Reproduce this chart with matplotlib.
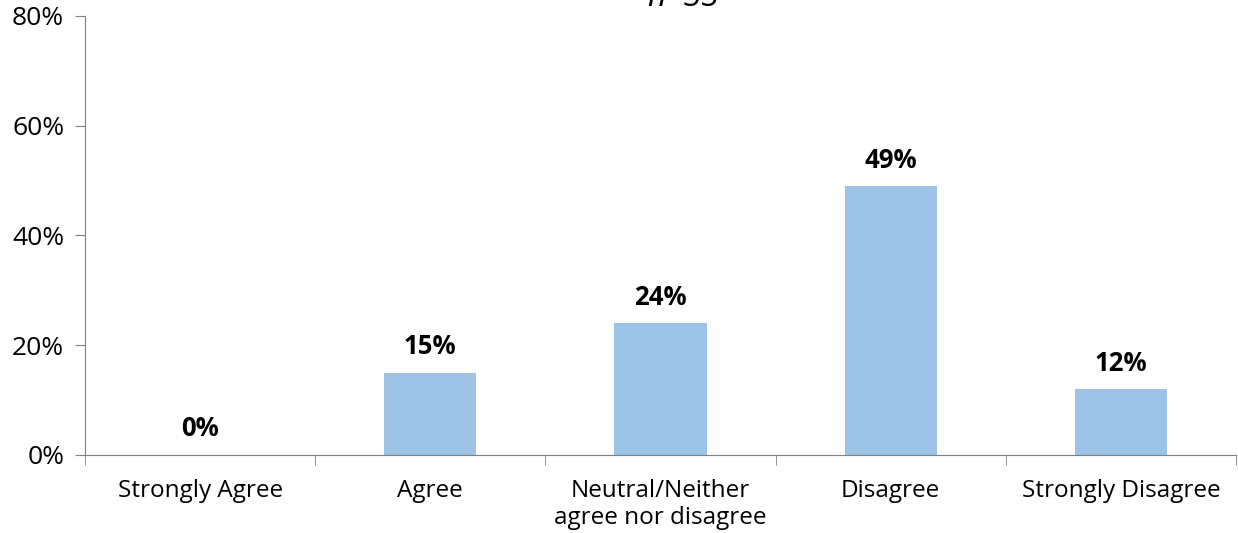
import matplotlib.pyplot as plt
import numpy as np
from matplotlib.ticker import FixedLocator, PercentFormatter

plt.rcParams['font.family'] = ['Open Sans', 'DejaVu Sans']

# datos
categorias = ['Strongly Agree', 'Agree', 'Neutral/Neither\nagree nor disagree',
              'Disagree', 'Strongly Disagree']
valores = [0, 15, 24, 49, 12]
titulo = 'n=33'

fig = plt.figure(figsize=(12.38, 5.33), dpi=100)
ax = fig.add_axes([85/1238, 1 - 455/533, (1236-85)/1238, (455-16)/533])

x = np.arange(len(categorias))
ax.bar(x, valores, width=0.4, color='#9dc3e6')

# etiquetas de las barras
for xi, v in zip(x, valores):
    ax.annotate(f'{v}%', (xi, v), xytext=(0, 9), textcoords='offset points',
                ha='center', va='bottom', fontsize=18.5, fontweight='bold')

ax.set_xlim(-0.5, len(categorias) - 0.5)
ax.set_ylim(0, 80)
ax.set_yticks(np.arange(0, 81, 20))
ax.yaxis.set_major_formatter(PercentFormatter(decimals=0))
ax.set_xticks(x)
ax.set_xticklabels(categorias, fontsize=17.5, va='top', linespacing=1.2)
ax.xaxis.set_minor_locator(FixedLocator(np.arange(-0.5, len(categorias), 1)))
ax.tick_params(axis='x', which='major', length=0, pad=17)
ax.tick_params(axis='x', which='minor', length=7, color='#808080', direction='out')
ax.tick_params(axis='y', labelsize=19, length=7, color='#808080', pad=8)

for s in ['top', 'right']:
    ax.spines[s].set_visible(False)
for s in ['left', 'bottom']:
    ax.spines[s].set_color('#808080')

fig.text(683/1238, 1 + 3/533, titulo, ha='center', va='center',
         fontsize=23, style='italic')

plt.savefig('out.png', dpi=100)
plt.close('all')
